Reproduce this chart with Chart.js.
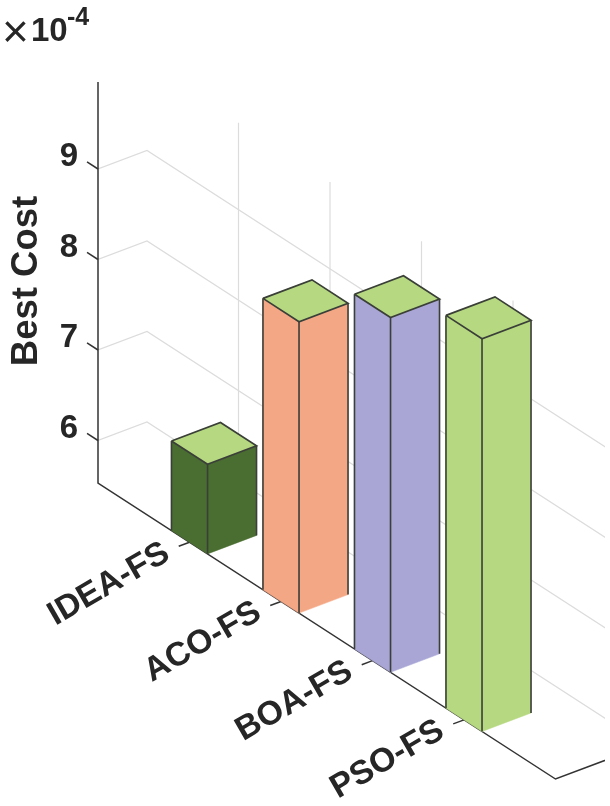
<!DOCTYPE html>
<html>
<head>
<meta charset="utf-8">
<style>
  html, body { margin: 0; padding: 0; background: #fff; }
  canvas { display: block; }
</style>
<script src="https://cdn.jsdelivr.net/npm/chart.js@4"></script>
</head>
<body>
<canvas id="chart" width="610" height="806"></canvas>
<script>
const categories = ['IDEA-FS', 'ACO-FS', 'BOA-FS', 'PSO-FS'];
const catPositions = [1, 2, 3, 4];
const bestCost = [6.52, 8.75, 9.45, 9.87];
const yTicks = [6, 7, 8, 9];
const yFloor = 5.53;
const yCeil = 9.96;

const sideColors = ['#4a6e31', '#f4a785', '#a9a6d6', '#b6d880'];
const topColors = ['#b6d880', '#b6d880', '#b6d880', '#b6d880'];
const edgeColor = '#3a3f38';
const gridColor = '#dcdcdc';
const axisColor = '#333333';
const textColor = '#262626';
const font = '"Liberation Sans", Arial, sans-serif';

// fake 3d view: depth and category direction expressed in scale units
const depthX = 49 / 91.5;
const slopeCat = 59.2 / 90.5;
const slopeDepth = 18.5 / 90.5;
const xEnd = 5;
const barHalf = 0.197;

function proj(c, d, v) {
    return { x: c + d * depthX, y: v - c * slopeCat + d * slopeDepth };
}

const datasets = [];

function addLine(points, color, width, clip) {
    datasets.push({
        data: points, showLine: true, fill: false, borderColor: color, borderWidth: width,
        pointRadius: 0, tension: 0, clip: clip || 0
    });
}

function addFace(points, color) {
    datasets.push({
        data: points.concat([points[0]]), showLine: true, fill: 'shape', backgroundColor: color,
        borderColor: color, borderWidth: 0.5, pointRadius: 0, tension: 0
    });
}

// back walls
yTicks.forEach(v => {
    addLine([proj(0, 0, v), proj(0, 1, v), proj(xEnd + 1, 1, v)], gridColor, 1.2);
});
catPositions.forEach(c => {
    addLine([proj(c, 1, yFloor), proj(c, 1, yCeil)], gridColor, 1.2);
});

// axes
const axisClip = { left: 4, top: 0, right: 0, bottom: 0 };
addLine([proj(0, 0, yCeil), proj(0, 0, yFloor), proj(xEnd, 0, yFloor), proj(xEnd, 2, yFloor)], axisColor, 1.5, axisClip);
yTicks.forEach(v => {
    addLine([proj(0, 0, v), proj(-0.12, 0, v)], axisColor, 1.5, { left: 20, top: 0, right: 0, bottom: 0 });
});
catPositions.forEach(c => {
    addLine([proj(c, 0, yFloor), proj(c, -0.22, yFloor)], axisColor, 1.5);
});

// bars
catPositions.forEach((c, i) => {
    const a = c - barHalf, b = c + barHalf, v = bestCost[i];
    addFace([proj(a, 0, yFloor), proj(b, 0, yFloor), proj(b, 0, v), proj(a, 0, v)], sideColors[i]);
    addFace([proj(b, 0, yFloor), proj(b, 1, yFloor), proj(b, 1, v), proj(b, 0, v)], sideColors[i]);
    addFace([proj(a, 0, v), proj(b, 0, v), proj(b, 1, v), proj(a, 1, v)], topColors[i]);
    addLine([proj(a, 0, v), proj(b, 0, v), proj(b, 1, v), proj(a, 1, v), proj(a, 0, v)], edgeColor, 1.7);
    addLine([proj(a, 0, yFloor), proj(a, 0, v)], edgeColor, 1.6);
    addLine([proj(b, 0, yFloor), proj(b, 0, v)], edgeColor, 1.6);
    addLine([proj(b, 1, yFloor), proj(b, 1, v)], edgeColor, 1.6);
});

// first dataset is painted last, so flip
datasets.reverse();

const textPlugin = {
    id: 'textPlugin',
    afterDraw(chart) {
        const { ctx, scales } = chart;
        ctx.save();
        ctx.fillStyle = textColor;

        // category labels along the front edge
        categories.forEach((label, i) => {
            const p = proj(catPositions[i], -0.46, yFloor);
            ctx.save();
            ctx.translate(scales.x.getPixelForValue(p.x), scales.y.getPixelForValue(p.y));
            ctx.rotate(-30 * Math.PI / 180);
            ctx.font = 'bold 33.5px ' + font;
            ctx.textAlign = 'right';
            ctx.textBaseline = 'middle';
            ctx.fillText(label, 0, 0);
            ctx.restore();
        });

        // y title
        ctx.save();
        ctx.translate(27, 281);
        ctx.rotate(-Math.PI / 2);
        ctx.font = 'bold 36.5px ' + font;
        ctx.textAlign = 'center';
        ctx.textBaseline = 'middle';
        ctx.fillText('Best Cost', 0, 0);
        ctx.restore();

        // exponent
        ctx.textBaseline = 'alphabetic';
        ctx.textAlign = 'left';
        ctx.font = '46px ' + font;
        ctx.fillText('×', 2, 47);
        ctx.font = 'bold 33px ' + font;
        ctx.fillText('10', 31, 41);
        ctx.font = 'bold 25px ' + font;
        ctx.fillText('-4', 67, 25);
        ctx.restore();
    }
};

new Chart(document.getElementById('chart'), {
    type: 'scatter',
    data: { datasets: datasets },
    plugins: [textPlugin],
    options: {
        responsive: false,
        animation: false,
        layout: { padding: { left: 0, right: 5, top: 0, bottom: 0 } },
        plugins: { legend: { display: false }, tooltip: { enabled: false } },
        scales: {
            x: { type: 'linear', display: false, min: 0, max: 507 / 91.5 },
            y: {
                type: 'linear',
                min: 9 - 637 / 90.5,
                max: 9 + 169 / 90.5,
                grid: { display: false, drawTicks: false },
                border: { display: false },
                ticks: {
                    color: textColor,
                    autoSkip: false,
                    padding: 20,
                    labelOffset: -12,
                    font: { family: font, size: 33, weight: 'bold' }
                },
                afterBuildTicks(scale) {
                    scale.ticks = yTicks.map(v => ({ value: v }));
                },
                afterFit(scale) {
                    scale.width = 98;
                    scale.paddingTop = 0;
                    scale.paddingBottom = 0;
                }
            }
        }
    }
});
</script>
</body>
</html>
